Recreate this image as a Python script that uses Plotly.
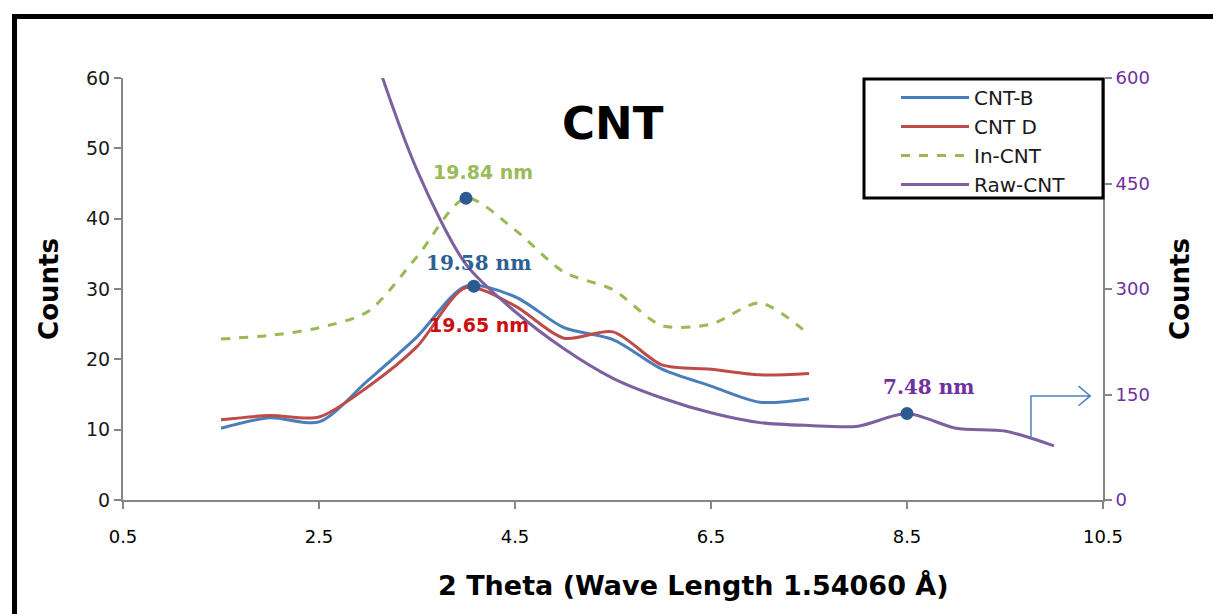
import plotly.graph_objects as go

# ---------------- data ----------------
theta = [1.5, 2.0, 2.5, 3.0, 3.5, 4.0, 4.5, 5.0, 5.5, 6.0, 6.5, 7.0, 7.5]
cnt_b = [10.2, 11.7, 11.1, 17.0, 23.2, 30.4, 28.9, 24.5, 22.8, 18.6, 16.2, 13.9, 14.4]
cnt_d = [11.4, 12.0, 11.8, 16.1, 21.8, 30.2, 27.6, 23.0, 23.9, 19.2, 18.6, 17.8, 18.0]
in_cnt = [22.9, 23.4, 24.5, 26.8, 34.6, 42.9, 38.4, 32.4, 29.9, 24.8, 25.0, 28.0, 23.5]

theta_raw = [2.5, 3.0, 3.5, 4.0, 4.5, 5.0, 5.5, 6.0, 6.5, 7.0, 7.5, 8.0, 8.5, 9.0, 9.5, 10.0]
raw_cnt = [950, 665, 469, 335, 268, 215, 173, 145, 124, 110, 106, 105, 123, 102, 98, 77]

names = ["CNT-B", "CNT D", "In-CNT", "Raw-CNT"]
colors = ["#4A7EBB", "#BE4B48", "#98B954", "#7D60A0"]
size_labels = ["19.58 nm", "19.65 nm", "19.84 nm", "7.48 nm"]
x_ticks = [0.5, 2.5, 4.5, 6.5, 8.5, 10.5]

FONT = "DejaVu Sans"
SERIF = "DejaVu Serif"
fig = go.Figure()

for y, name, col, dash in [(cnt_b, names[0], colors[0], "solid"),
                           (cnt_d, names[1], colors[1], "solid"),
                           (in_cnt, names[2], colors[2], "dash")]:
    fig.add_trace(go.Scatter(x=theta, y=y, name=name, mode="lines",
                             line=dict(color=col, width=3, shape="spline", smoothing=0.8, dash=dash),
                             legendgroup=name))

fig.add_trace(go.Scatter(x=theta_raw, y=raw_cnt, name=names[3], mode="lines", yaxis="y2",
                         line=dict(color=colors[3], width=3, shape="spline", smoothing=0.8),
                         legendgroup=names[3]))

# peak markers
ib = cnt_b.index(max(cnt_b))
ig = in_cnt.index(max(in_cnt))
ir = 12  # local maximum of raw curve at 8.5
mk = dict(color="#2C5C8F", size=13)
fig.add_trace(go.Scatter(x=[theta[ig], theta[ib] + 0.08], y=[in_cnt[ig], cnt_b[ib]], mode="markers",
                         marker=mk, showlegend=False, hoverinfo="skip"))
fig.add_trace(go.Scatter(x=[theta_raw[ir]], y=[raw_cnt[ir]], yaxis="y2", mode="markers",
                         marker=mk, showlegend=False, hoverinfo="skip"))

# annotations for crystallite sizes
fig.add_annotation(x=theta[ig] + 0.17, y=in_cnt[ig] + 3.7, text="<b>" + size_labels[2] + "</b>",
                   showarrow=False, font=dict(family=FONT, size=19, color="#9BBB59"))
fig.add_annotation(x=theta[ib] + 0.13, y=cnt_b[ib] + 3.3, text="<b>" + size_labels[0] + "</b>",
                   showarrow=False, font=dict(family=SERIF, size=20, color="#2E5F95"))
fig.add_annotation(x=theta[ib] + 0.13, y=cnt_b[ib] - 5.5, text="<b>" + size_labels[1] + "</b>",
                   showarrow=False, font=dict(family=FONT, size=19, color="#CC1010"))
fig.add_annotation(x=theta_raw[ir] + 0.22, y=raw_cnt[ir] + 38, yref="y2", text="<b>" + size_labels[3] + "</b>",
                   showarrow=False, font=dict(family=SERIF, size=20, color="#7030A0"))

# title
fig.add_annotation(x=0.5, y=(500 - 123) / 422, xref="paper", yref="paper", text="<b>CNT</b>",
                   showarrow=False, yanchor="middle",
                   font=dict(family=FONT, size=45, color="black"))
# x-axis title
fig.add_annotation(x=(693 - 123) / 980, y=(500 - 585) / 422, xref="paper", yref="paper",
                   text="<b>2 Theta (Wave Length 1.54060 Å)</b>", showarrow=False, yanchor="middle",
                   font=dict(family=FONT, size=27, color="black"))

# arrow pointing to right axis
ax0 = 9.765
fig.add_shape(type="path", xref="x", yref="y2",
              path=f"M {ax0},88 L {ax0},148 L 10.37,148 M 10.25,162 L 10.37,148 L 10.25,134",
              line=dict(color="#4F81BD", width=1.5))

# outer frame
fig.add_shape(type="rect", xref="paper", yref="paper", x0=-0.1107, y0=-0.4, x1=1.2, y1=1.1457,
              line=dict(color="black", width=5), layer="above")
# legend frame
fig.add_shape(type="rect", xref="paper", yref="paper", x0=(864 - 123) / 980, x1=(1103 - 123) / 980,
              y0=(500 - 198) / 422, y1=(500 - 79) / 422, line=dict(color="black", width=3),
              fillcolor="rgba(0,0,0,0)", layer="above")

axis_common = dict(showline=True, linecolor="#868686", linewidth=2, ticks="outside", ticklen=7,
                   tickcolor="#868686", tickwidth=2, showgrid=False, zeroline=False)

fig.update_layout(
    width=1213, height=614,
    margin=dict(l=123, r=110, t=78, b=114),
    paper_bgcolor="white", plot_bgcolor="white",
    font=dict(family=FONT),
    xaxis=dict(range=[0.5, 10.5], tickvals=x_ticks, ticktext=[str(v) for v in x_ticks],
               tickfont=dict(size=18, color="black"), ticklabelstandoff=12, **axis_common),
    yaxis=dict(range=[0, 60], dtick=10, tickfont=dict(size=19, color="#1a1a1a"),
               title=dict(text="<b>Counts</b>", font=dict(size=26, color="black"), standoff=20),
               **axis_common),
    yaxis2=dict(range=[0, 600], dtick=150, overlaying="y", side="right",
                tickfont=dict(size=18, color="#7030A0"),
                title=dict(text="<b>Counts</b>", font=dict(size=26, color="black"), standoff=22),
                **axis_common),
    legend=dict(x=(896 - 123) / 980, y=(500 - 78) / 422, xanchor="left", yanchor="top",
                bgcolor="rgba(0,0,0,0)", borderwidth=0, font=dict(size=20, color="#1a1a1a"),
                itemwidth=68, tracegroupgap=0, traceorder="grouped"),
    showlegend=True,
)

fig.write_html("out.html")
